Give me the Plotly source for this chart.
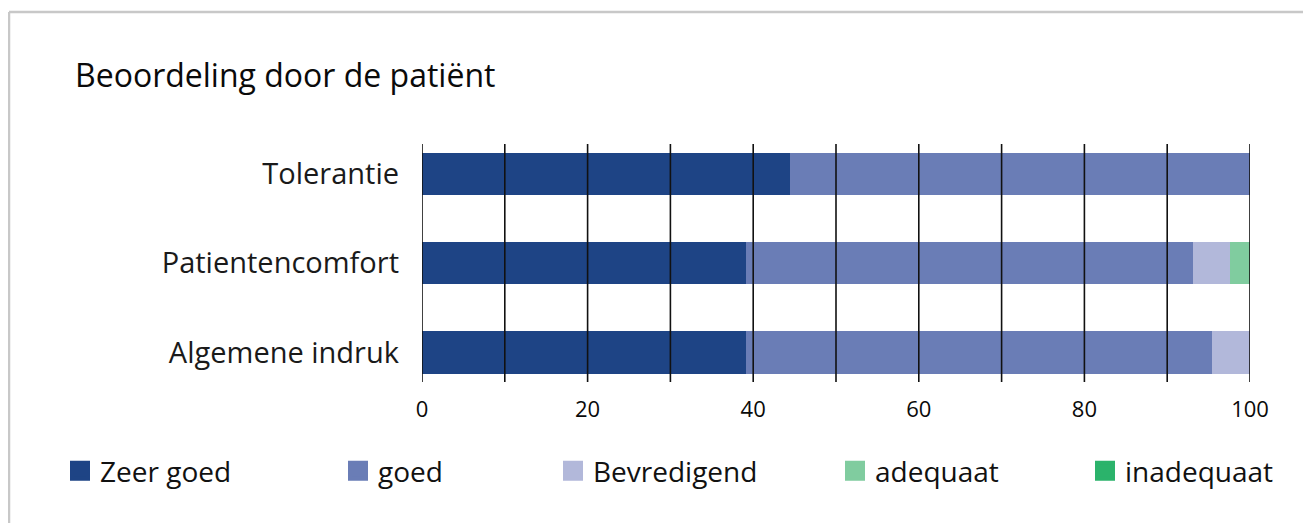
import plotly.graph_objects as go

categories = ["Algemene indruk", "Patientencomfort", "Tolerantie"]
series_names = ["Zeer goed", "goed", "Bevredigend", "adequaat", "inadequaat"]
zeer_goed = [39.1, 39.1, 44.4]
goed = [56.3, 54.0, 55.6]
bevredigend = [4.6, 4.5, 0.0]
adequaat = [0.0, 2.4, 0.0]
inadequaat = [0.0, 0.0, 0.0]
tick_values = [0, 20, 40, 60, 80, 100]
grid_values = [0, 10, 20, 30, 40, 50, 60, 70, 80, 90, 100]
colors = ["#1e4485", "#6a7db6", "#b2b8da", "#80cc9f", "#2bb36b"]

series_values = [zeer_goed, goed, bevredigend, adequaat, inadequaat]

OFF = 8  # page body margin
W, H = 1311 - OFF, 523 - OFF
L, R, T, B = 422 - OFF, 61, 144 - OFF, 141
pw, ph = W - L - R, H - T - B

def px_x(p):  # page px -> paper
    return (p - OFF - L) / pw

def px_y(p):
    return (H - B - (p - OFF)) / ph

FONT = "Open Sans"
fig = go.Figure()
legend_text_starts = [100, 378, 593, 875, 1125]
for i, (name, vals, col) in enumerate(zip(series_names, series_values, colors)):
    lg = "legend" if i == 0 else f"legend{i+1}"
    fig.add_trace(go.Bar(
        y=categories, x=vals, name=name, orientation="h",
        marker=dict(color=col, line=dict(width=0)),
        showlegend=False, legendgroup=name,
    ))
    fig.add_trace(go.Scatter(
        x=[None], y=[None], mode="markers", name=name,
        marker=dict(symbol="square", size=20, color=col, line=dict(color=col, width=4)),
        legend=lg, legendgroup=name, showlegend=True,
    ))

layout_legends = {}
for i, xs in enumerate(legend_text_starts):
    key = "legend" if i == 0 else f"legend{i+1}"
    layout_legends[key] = dict(
        x=px_x(xs - 40), y=px_y(471), xanchor="left", yanchor="middle",
        orientation="h", font=dict(family=FONT, size=28, color="#111111"),
        bgcolor="rgba(0,0,0,0)", borderwidth=0, itemclick=False, itemdoubleclick=False,
    )

shapes = []
for g in grid_values:
    shapes.append(dict(type="line", xref="x", yref="paper", x0=g, x1=g, y0=0, y1=1,
                       line=dict(color="#111111", width=1.6), layer="above"))
# outer frame (top and left)
shapes.append(dict(type="line", xref="paper", yref="paper", x0=px_x(OFF + 1), x1=px_x(1320),
                   y0=px_y(12), y1=px_y(12), line=dict(color="#c8c8c8", width=2.5)))
shapes.append(dict(type="line", xref="paper", yref="paper", x0=px_x(OFF + 1), x1=px_x(OFF + 1),
                   y0=px_y(12), y1=px_y(540), line=dict(color="#c8c8c8", width=2.5)))

fig.update_layout(
    width=W, height=H,
    margin=dict(l=L, r=R, t=T, b=B, pad=0),
    barmode="stack", bargap=0.53,
    paper_bgcolor="white", plot_bgcolor="white",
    title=dict(text="Beoordeling door de patiënt", xref="container", yref="container",
               x=(75 - OFF) / W, y=1 - (76 - OFF) / H, xanchor="left", yanchor="middle",
               font=dict(family=FONT, size=32, color="#0a0a0a")),
    xaxis=dict(range=[0, 100], tickvals=tick_values, showgrid=False, zeroline=False,
               showline=False, ticks="", ticklabelstandoff=12,
               tickfont=dict(family=FONT, size=22, color="#0a0a0a"), fixedrange=True),
    yaxis=dict(range=[-0.33, 2.33], showgrid=False, zeroline=False, showline=False,
               ticks="", ticklabelstandoff=22,
               tickfont=dict(family=FONT, size=29, color="#1a1a1a"), fixedrange=True),
    shapes=shapes,
    **layout_legends,
)

fig.write_html("out.html")
